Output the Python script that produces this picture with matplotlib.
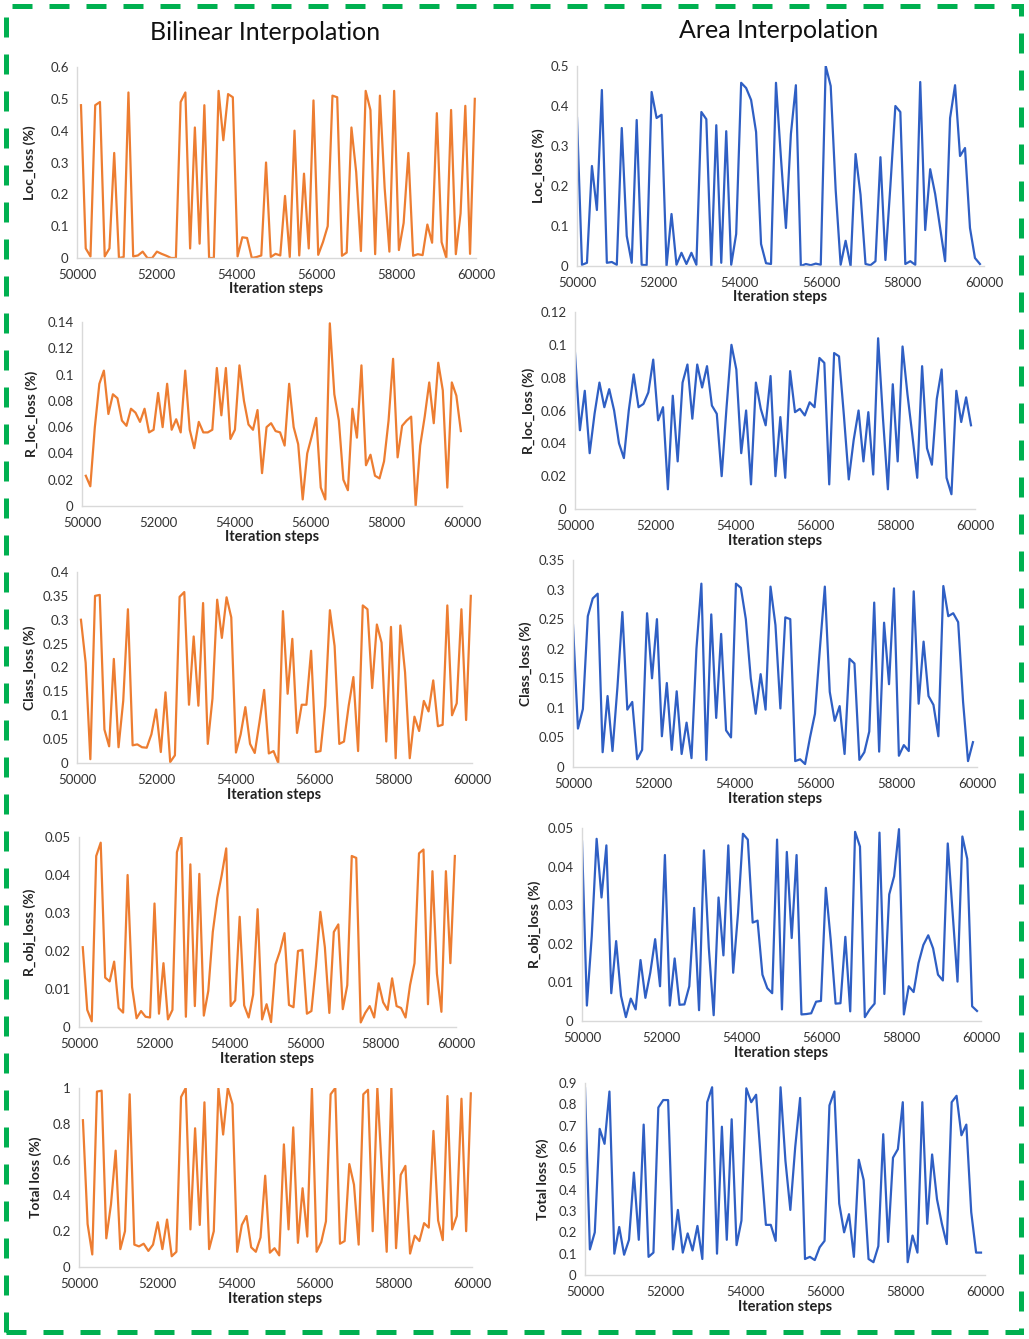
import numpy as np
import matplotlib
matplotlib.use("Agg")
import matplotlib.pyplot as plt
from matplotlib.patches import Rectangle
from matplotlib.transforms import blended_transform_factory

plt.rcParams['font.family'] = ['Lato', 'DejaVu Sans']

# ---- data ----
bi_loc = [0.48, 0.03, 0.005, 0.48, 0.49, 0.005, 0.03, 0.33, 0.0, 0.003, 0.52, 0.005, 0.008, 0.02,
          0.0, 0.0, 0.02, 0.013, 0.007, 0.0, 0.0, 0.49, 0.52, 0.03, 0.41, 0.045, 0.48, 0.0, 0.0,
          0.525, 0.37, 0.515, 0.505, 0.005, 0.065, 0.063, 0.0, 0.003, 0.008, 0.3, 0.003, 0.013,
          0.008, 0.195, 0.003, 0.4, 0.008, 0.265, 0.03, 0.495, 0.01, 0.05, 0.1, 0.51, 0.505, 0.007,
          0.017, 0.41, 0.27, 0.022, 0.525, 0.465, 0.012, 0.51, 0.22, 0.02, 0.525, 0.025, 0.11, 0.33,
          0.007, 0.012, 0.009, 0.105, 0.048, 0.455, 0.05, 0.0, 0.465, 0.012, 0.14, 0.478, 0.013, 0.5]
bi_rloc = [0.023, 0.015, 0.06, 0.093, 0.103, 0.07, 0.085, 0.082, 0.065, 0.061, 0.074, 0.071, 0.064,
           0.074, 0.056, 0.058, 0.086, 0.06, 0.093, 0.058, 0.066, 0.056, 0.103, 0.058, 0.044, 0.064,
           0.056, 0.056, 0.058, 0.105, 0.069, 0.105, 0.051, 0.058, 0.107, 0.08, 0.062, 0.058, 0.073,
           0.025, 0.06, 0.063, 0.057, 0.056, 0.046, 0.093, 0.06, 0.047, 0.005, 0.04, 0.053, 0.067,
           0.014, 0.005, 0.139, 0.085, 0.065, 0.02, 0.012, 0.074, 0.052, 0.107, 0.031, 0.039, 0.023,
           0.021, 0.034, 0.065, 0.112, 0.037, 0.061, 0.065, 0.068, 0.0, 0.046, 0.068, 0.094, 0.063,
           0.109, 0.088, 0.014, 0.094, 0.084, 0.057]
bi_class = [0.30, 0.21, 0.008, 0.35, 0.352, 0.07, 0.035, 0.218, 0.033, 0.13, 0.322, 0.037, 0.039,
            0.033, 0.032, 0.06, 0.112, 0.023, 0.148, 0.002, 0.016, 0.348, 0.358, 0.122, 0.265, 0.12,
            0.335, 0.04, 0.135, 0.342, 0.262, 0.347, 0.305, 0.022, 0.06, 0.117, 0.04, 0.021, 0.085,
            0.153, 0.02, 0.025, 0.0, 0.318, 0.145, 0.26, 0.063, 0.122, 0.122, 0.235, 0.023, 0.025,
            0.12, 0.32, 0.245, 0.04, 0.045, 0.12, 0.18, 0.025, 0.33, 0.322, 0.157, 0.29, 0.252, 0.045,
            0.285, 0.01, 0.288, 0.19, 0.01, 0.097, 0.067, 0.13, 0.108, 0.173, 0.077, 0.08, 0.33, 0.1,
            0.125, 0.322, 0.09, 0.35]
bi_robj = [0.021, 0.0045, 0.0015, 0.045, 0.0485, 0.013, 0.012, 0.0172, 0.005, 0.0038, 0.040, 0.0105,
           0.0023, 0.0042, 0.0027, 0.0025, 0.0325, 0.0035, 0.0168, 0.002, 0.0045, 0.046, 0.05,
           0.0027, 0.0428, 0.0055, 0.0403, 0.003, 0.0095, 0.025, 0.034, 0.040, 0.047, 0.0055, 0.007,
           0.029, 0.0057, 0.0025, 0.0085, 0.031, 0.002, 0.006, 0.0013, 0.0165, 0.02, 0.0247, 0.0058,
           0.0052, 0.020, 0.0203, 0.0035, 0.0042, 0.016, 0.0303, 0.021, 0.0037, 0.025, 0.027, 0.0047,
           0.011, 0.045, 0.0445, 0.0012, 0.0037, 0.0055, 0.0025, 0.0115, 0.0065, 0.0045, 0.0128,
           0.0055, 0.005, 0.0025, 0.011, 0.0168, 0.0457, 0.0467, 0.006, 0.041, 0.014, 0.004, 0.041,
           0.0168, 0.045]
bi_total = [0.82, 0.24, 0.07, 0.98, 0.985, 0.16, 0.35, 0.65, 0.1, 0.2, 0.965, 0.125, 0.115, 0.13,
            0.09, 0.125, 0.25, 0.1, 0.265, 0.06, 0.085, 0.95, 1.0, 0.21, 0.775, 0.235, 0.92, 0.1, 0.2,
            1.0, 0.74, 1.0, 0.91, 0.085, 0.235, 0.285, 0.11, 0.085, 0.165, 0.51, 0.08, 0.105, 0.065,
            0.685, 0.21, 0.78, 0.135, 0.44, 0.17, 1.0, 0.085, 0.14, 0.255, 0.965, 1.0, 0.13, 0.145,
            0.575, 0.46, 0.125, 0.965, 0.99, 0.2, 1.0, 0.52, 0.085, 1.0, 0.105, 0.515, 0.565, 0.075,
            0.175, 0.145, 0.245, 0.22, 0.76, 0.26, 0.15, 0.955, 0.21, 0.285, 0.94, 0.2, 0.97]

ar_loc = [0.37, 0.003, 0.008, 0.25, 0.14, 0.44, 0.008, 0.01, 0.003, 0.345, 0.075, 0.008, 0.365,
          0.003, 0.002, 0.435, 0.37, 0.378, 0.0, 0.13, 0.003, 0.033, 0.005, 0.033, 0.003, 0.385,
          0.367, 0.0, 0.352, 0.008, 0.337, 0.003, 0.08, 0.458, 0.445, 0.415, 0.335, 0.055, 0.007,
          0.005, 0.458, 0.27, 0.095, 0.33, 0.452, 0.0, 0.005, 0.002, 0.006, 0.003, 0.5, 0.45, 0.19,
          0.003, 0.063, 0.0, 0.28, 0.178, 0.005, 0.002, 0.012, 0.272, 0.015, 0.2, 0.4, 0.385, 0.005,
          0.012, 0.003, 0.46, 0.09, 0.242, 0.18, 0.095, 0.012, 0.37, 0.452, 0.275, 0.295, 0.095,
          0.02, 0.005]
ar_rloc = [0.095, 0.048, 0.072, 0.034, 0.058, 0.077, 0.062, 0.073, 0.06, 0.04, 0.031, 0.06, 0.082,
           0.062, 0.064, 0.071, 0.091, 0.054, 0.062, 0.012, 0.069, 0.029, 0.077, 0.088, 0.055, 0.088,
           0.074, 0.087, 0.063, 0.058, 0.02, 0.062, 0.1, 0.085, 0.034, 0.06, 0.015, 0.077, 0.061,
           0.051, 0.081, 0.02, 0.056, 0.019, 0.084, 0.059, 0.061, 0.057, 0.065, 0.062, 0.092, 0.089,
           0.015, 0.095, 0.093, 0.057, 0.018, 0.042, 0.06, 0.029, 0.059, 0.021, 0.104, 0.055, 0.012,
           0.076, 0.029, 0.099, 0.07, 0.045, 0.019, 0.087, 0.037, 0.027, 0.067, 0.085, 0.019, 0.009,
           0.072, 0.053, 0.068, 0.051]
ar_class = [0.24, 0.065, 0.098, 0.255, 0.285, 0.293, 0.025, 0.12, 0.027, 0.135, 0.262, 0.097, 0.11,
            0.013, 0.029, 0.26, 0.15, 0.25, 0.052, 0.142, 0.029, 0.128, 0.022, 0.075, 0.015, 0.2,
            0.31, 0.012, 0.258, 0.083, 0.225, 0.062, 0.05, 0.31, 0.303, 0.25, 0.15, 0.09, 0.157,
            0.097, 0.305, 0.24, 0.099, 0.253, 0.25, 0.01, 0.013, 0.005, 0.05, 0.09, 0.2, 0.305, 0.127,
            0.078, 0.103, 0.022, 0.183, 0.175, 0.012, 0.025, 0.06, 0.278, 0.026, 0.244, 0.14, 0.302,
            0.019, 0.037, 0.027, 0.297, 0.107, 0.212, 0.12, 0.105, 0.052, 0.306, 0.255, 0.26, 0.245,
            0.11, 0.01, 0.042]
ar_robj = [0.0465, 0.004, 0.022, 0.0472, 0.032, 0.0455, 0.0072, 0.0207, 0.0065, 0.001, 0.0058,
           0.003, 0.0158, 0.006, 0.0125, 0.0212, 0.009, 0.043, 0.004, 0.0162, 0.0042, 0.0043, 0.009,
           0.0293, 0.0028, 0.0442, 0.019, 0.0015, 0.032, 0.017, 0.0455, 0.0125, 0.028, 0.0485, 0.047,
           0.0255, 0.026, 0.012, 0.0085, 0.0072, 0.047, 0.003, 0.0438, 0.0215, 0.043, 0.0017, 0.0018,
           0.002, 0.005, 0.0052, 0.0345, 0.021, 0.0045, 0.0046, 0.0218, 0.0025, 0.049, 0.0452, 0.001,
           0.003, 0.0045, 0.0488, 0.007, 0.0328, 0.0375, 0.0497, 0.0017, 0.009, 0.0075, 0.015, 0.0197,
           0.0222, 0.0188, 0.012, 0.0105, 0.046, 0.028, 0.0102, 0.0478, 0.042, 0.0038, 0.0026]
ar_total = [0.875, 0.12, 0.2, 0.685, 0.615, 0.86, 0.1, 0.225, 0.095, 0.165, 0.48, 0.165, 0.705,
            0.085, 0.105, 0.785, 0.82, 0.82, 0.12, 0.305, 0.105, 0.195, 0.115, 0.23, 0.075, 0.81,
            0.88, 0.1, 0.695, 0.165, 0.73, 0.14, 0.255, 0.875, 0.81, 0.845, 0.53, 0.235, 0.235, 0.16,
            0.88, 0.535, 0.305, 0.6, 0.83, 0.075, 0.085, 0.07, 0.13, 0.16, 0.795, 0.86, 0.335, 0.2,
            0.285, 0.085, 0.54, 0.445, 0.075, 0.06, 0.135, 0.66, 0.155, 0.55, 0.59, 0.81, 0.06, 0.185,
            0.105, 0.81, 0.24, 0.565, 0.355, 0.24, 0.145, 0.81, 0.84, 0.655, 0.705, 0.295, 0.105, 0.105]

ylabels = ["Loc_loss (%)", "R_loc_loss (%)", "Class_loss (%)", "R_obj_loss (%)", "Total loss (%)"]
bi_series = [bi_loc, bi_rloc, bi_class, bi_robj, bi_total]
ar_series = [ar_loc, ar_rloc, ar_class, ar_robj, ar_total]
bi_ymax = [0.6, 0.14, 0.4, 0.05, 1.0]
bi_ystep = [0.1, 0.02, 0.05, 0.01, 0.2]
ar_ymax = [0.5, 0.12, 0.35, 0.05, 0.9]
ar_ystep = [0.1, 0.02, 0.05, 0.01, 0.1]

# plot-area boxes in pixels (x0, x1, y_top, y_bottom) and y-title x centre
bi_boxes = [(77, 476, 67, 258), (82, 462, 322, 506), (77, 472, 572, 763),
            (79, 456, 837, 1027), (79, 472, 1088, 1267)]
ar_boxes = [(577, 984, 66, 266), (575, 975, 312, 509), (573, 977, 560, 767),
            (582, 981, 828, 1021), (585, 985, 1083, 1275)]
bi_ylab_x = [30, 32, 30, 30, 36]
ar_ylab_x = [539, 529, 526, 535, 543]

W, H = 1029, 1339
ORANGE = "#ED7D31"
BLUE = "#2F5FC4"
AXIS_GREY = "#D9D9D9"


def fmt(v):
    s = f"{v:.2f}".rstrip("0").rstrip(".")
    return s if s else "0"


def draw_panel(fig, box, y, ymax, ystep, ylabel, lab_x, color, x_start, x_end):
    x0, x1, yt, yb = box
    ax = fig.add_axes([x0 / W, 1 - yb / H, (x1 - x0) / W, (yb - yt) / H])
    steps = np.linspace(x_start, x_end, len(y))
    ax.plot(steps, y, color=color, lw=1.6)
    ax.set_xlim(50000, 60000)
    ax.set_ylim(0, ymax)
    ax.set_xticks(np.arange(50000, 60001, 2000))
    yt_vals = np.arange(0, ymax + ystep / 2, ystep)
    ax.set_yticks(yt_vals)
    ax.set_yticklabels([fmt(v) for v in yt_vals])
    for s in ["top", "right"]:
        ax.spines[s].set_visible(False)
    for s in ["left", "bottom"]:
        ax.spines[s].set_color(AXIS_GREY)
        ax.spines[s].set_linewidth(1.0)
    ax.tick_params(length=0, labelsize=9.5, colors="#333333")
    ax.tick_params(axis="x", pad=8)
    ax.tick_params(axis="y", pad=6)
    ax.set_ylabel(ylabel, fontsize=10, fontweight="bold", color="#222222",
                  va="center", ha="center")
    ax.yaxis.set_label_coords(lab_x / W, 0.5,
                              transform=blended_transform_factory(fig.transFigure, ax.transAxes))
    ax.set_xlabel("Iteration steps", fontsize=10.5, fontweight="bold", color="#222222", labelpad=1)
    return ax


fig = plt.figure(figsize=(W / 100, H / 100), dpi=100)

for i in range(5):
    draw_panel(fig, bi_boxes[i], bi_series[i], bi_ymax[i], bi_ystep[i], ylabels[i],
               bi_ylab_x[i], ORANGE, 50100, 59970)
    draw_panel(fig, ar_boxes[i], ar_series[i], ar_ymax[i], ar_ystep[i], ylabels[i],
               ar_ylab_x[i], BLUE, 50000, 59900)

fig.text(265 / W, 1 - 33 / H, "Bilinear Interpolation", fontsize=18, ha="center", va="center",
         color="#111111")
fig.text(779 / W, 1 - 31 / H, "Area Interpolation", fontsize=18, ha="center", va="center",
         color="#111111")

border = Rectangle((6 / W, 1 - 1332 / H), (1021 - 6) / W, (1332 - 6) / H,
                   transform=fig.transFigure, fill=False, edgecolor="#00B050",
                   lw=3.6, linestyle=(0, (4, 3.4)))
fig.patches.append(border)

fig.savefig("out.png", dpi=100)
